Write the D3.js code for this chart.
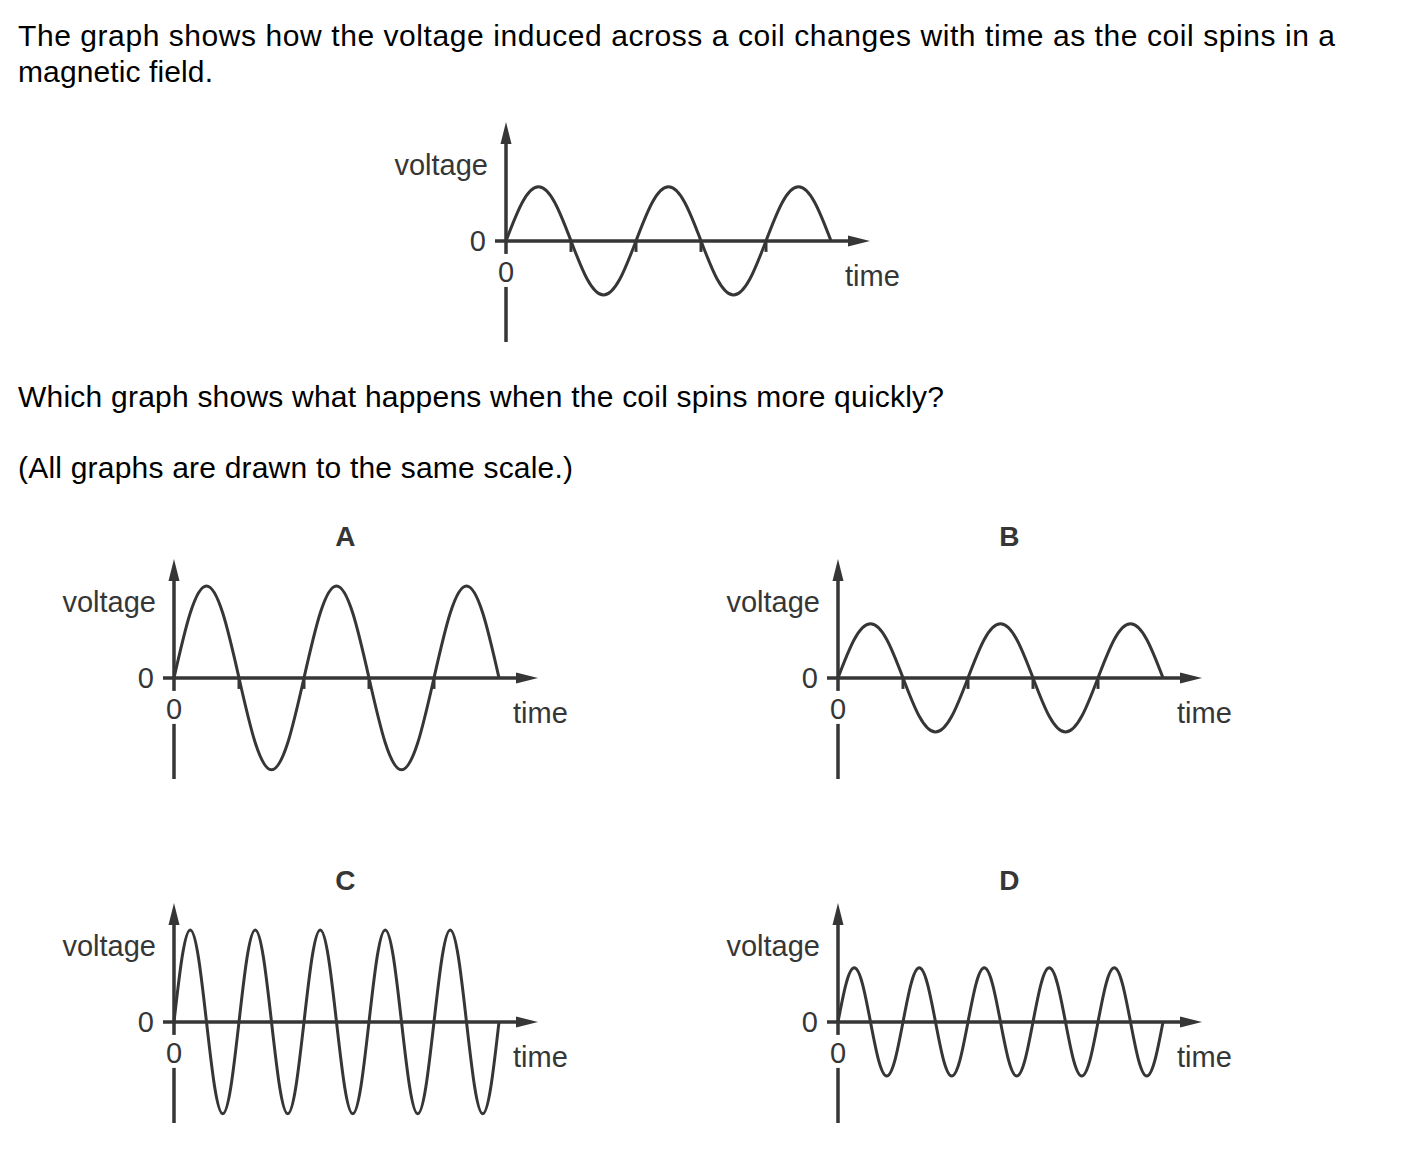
<!DOCTYPE html>
<html><head><meta charset="utf-8">
<script src="https://cdn.jsdelivr.net/npm/d3@7"></script>
<style>
html,body{margin:0;padding:0;background:#fff;}
svg{display:block;}
</style></head>
<body>
<svg id="c" width="1424" height="1155"></svg>
<script>
// ---- text ----
const introLines = ["The graph shows how the voltage induced across a coil changes with time as the coil spins in a", "magnetic field."];
const questionText = "Which graph shows what happens when the coil spins more quickly?";
const noteText = "(All graphs are drawn to the same scale.)";
const optionLabels = ["A", "B", "C", "D"];
const yAxisLabel = "voltage";
const xAxisLabel = "time";
const zeroTick = "0";

// ---- data: time in quarter-periods of the reference coil, voltage relative to reference peak ----
const slowTime = [0,0.5,1,1.5,2,2.5,3,3.5,4,4.5,5,5.5,6,6.5,7,7.5,8,8.5,9,9.5,10];
const refVolt  = [0,0.71,1,0.71,0,-0.71,-1,-0.71,0,0.71,1,0.71,0,-0.71,-1,-0.71,0,0.71,1,0.71,0];
const aVolt    = [0,1.2,1.7,1.2,0,-1.2,-1.7,-1.2,0,1.2,1.7,1.2,0,-1.2,-1.7,-1.2,0,1.2,1.7,1.2,0];
const bVolt    = [0,0.71,1,0.71,0,-0.71,-1,-0.71,0,0.71,1,0.71,0,-0.71,-1,-0.71,0,0.71,1,0.71,0];
const fastTime = [0,0.25,0.5,0.75,1,1.25,1.5,1.75,2,2.25,2.5,2.75,3,3.25,3.5,3.75,4,4.25,4.5,4.75,5,
                  5.25,5.5,5.75,6,6.25,6.5,6.75,7,7.25,7.5,7.75,8,8.25,8.5,8.75,9,9.25,9.5,9.75,10];
const cVolt    = [0,1.2,1.7,1.2,0,-1.2,-1.7,-1.2,0,1.2,1.7,1.2,0,-1.2,-1.7,-1.2,0,1.2,1.7,1.2,0,
                  -1.2,-1.7,-1.2,0,1.2,1.7,1.2,0,-1.2,-1.7,-1.2,0,1.2,1.7,1.2,0,-1.2,-1.7,-1.2,0];
const dVolt    = [0,0.71,1,0.71,0,-0.71,-1,-0.71,0,0.71,1,0.71,0,-0.71,-1,-0.71,0,0.71,1,0.71,0,
                  -0.71,-1,-0.71,0,0.71,1,0.71,0,-0.71,-1,-0.71,0,0.71,1,0.71,0,-0.71,-1,-0.71,0];
const slowCrossMarks = [2,4,6,8];

const svg = d3.select("#c");
const FONT = "'Liberation Sans', Arial, Helvetica, sans-serif";
const INK = "#363636";

// intro text
function para(txt, y, len) {
  svg.append("text").attr("x",18).attr("y",y)
    .attr("font-family",FONT).attr("font-size",30).attr("fill","#000")
    .attr("textLength",len).attr("lengthAdjust","spacing").text(txt);
}
para(introLines[0], 46, 1317);
para(introLines[1], 82, 195);
para(questionText, 407, 926);
para(noteText, 478, 555);

// scales (same for all graphs)
const xScale = d3.scaleLinear().domain([0, 11.2]).range([0, 364]);
const yScale = d3.scaleLinear().domain([-1.87, 2.2]).range([101, -119]);

function drawGraph(ox, oy, times, volts, title, marks) {
  const g = svg.append("g").attr("transform",`translate(${ox},${oy})`);
  const x0 = xScale(0), y0 = yScale(0);
  const xEnd = xScale(11.2), yTop = yScale(2.2);
  // x axis
  g.append("line").attr("x1",x0-11).attr("x2",xEnd-14).attr("y1",y0).attr("y2",y0)
    .attr("stroke",INK).attr("stroke-width",3.5);
  g.append("path").attr("d",`M${xEnd},${y0} L${xEnd-22},${y0-5.5} L${xEnd-22},${y0+5.5} Z`).attr("fill",INK);
  // y axis (broken for the 0 label below origin)
  g.append("line").attr("x1",x0).attr("x2",x0).attr("y1",yTop+14).attr("y2",y0+13)
    .attr("stroke",INK).attr("stroke-width",3.5);
  g.append("line").attr("x1",x0).attr("x2",x0).attr("y1",y0+46).attr("y2",yScale(-1.87))
    .attr("stroke",INK).attr("stroke-width",3.5);
  g.append("path").attr("d",`M${x0},${yTop} L${x0-5.5},${yTop+22} L${x0+5.5},${yTop+22} Z`).attr("fill",INK);
  // labels
  g.append("text").attr("x",x0-18).attr("y",yTop+53).attr("text-anchor","end")
    .attr("font-family",FONT).attr("font-size",29).attr("fill",INK).text(yAxisLabel);
  g.append("text").attr("x",x0-20).attr("y",y0+10.5).attr("text-anchor","end")
    .attr("font-family",FONT).attr("font-size",29).attr("fill",INK).text(zeroTick);
  g.append("text").attr("x",x0).attr("y",y0+41).attr("text-anchor","middle")
    .attr("font-family",FONT).attr("font-size",29).attr("fill",INK).text(zeroTick);
  g.append("text").attr("x",xEnd-25).attr("y",y0+45)
    .attr("font-family",FONT).attr("font-size",29).attr("fill",INK).text(xAxisLabel);
  if (title) g.append("text").attr("x",xScale(5.27)).attr("y",yTop-13).attr("text-anchor","middle")
    .attr("font-family",FONT).attr("font-size",28).attr("font-weight","bold").attr("fill",INK).text(title);
  // small marks below the axis at the zero crossings
  if (marks) g.selectAll("line.mk").data(marks).join("line").attr("class","mk")
    .attr("x1",d=>xScale(d)).attr("x2",d=>xScale(d)).attr("y1",y0).attr("y2",y0+11)
    .attr("stroke",INK).attr("stroke-width",3);
  // curve
  const pts = times.map((t,i)=>[t,volts[i]]);
  const line = d3.line().x(d=>xScale(d[0])).y(d=>yScale(d[1])).curve(d3.curveNatural);
  g.append("path").attr("d",line(pts)).attr("fill","none").attr("stroke",INK).attr("stroke-width",3);
}

drawGraph(506, 241, slowTime, refVolt, null, slowCrossMarks);
drawGraph(174, 678, slowTime, aVolt, optionLabels[0], slowCrossMarks);
drawGraph(838, 678, slowTime, bVolt, optionLabels[1], slowCrossMarks);
drawGraph(174, 1022, fastTime, cVolt, optionLabels[2], null);
drawGraph(838, 1022, fastTime, dVolt, optionLabels[3], null);
</script>
</body></html>
